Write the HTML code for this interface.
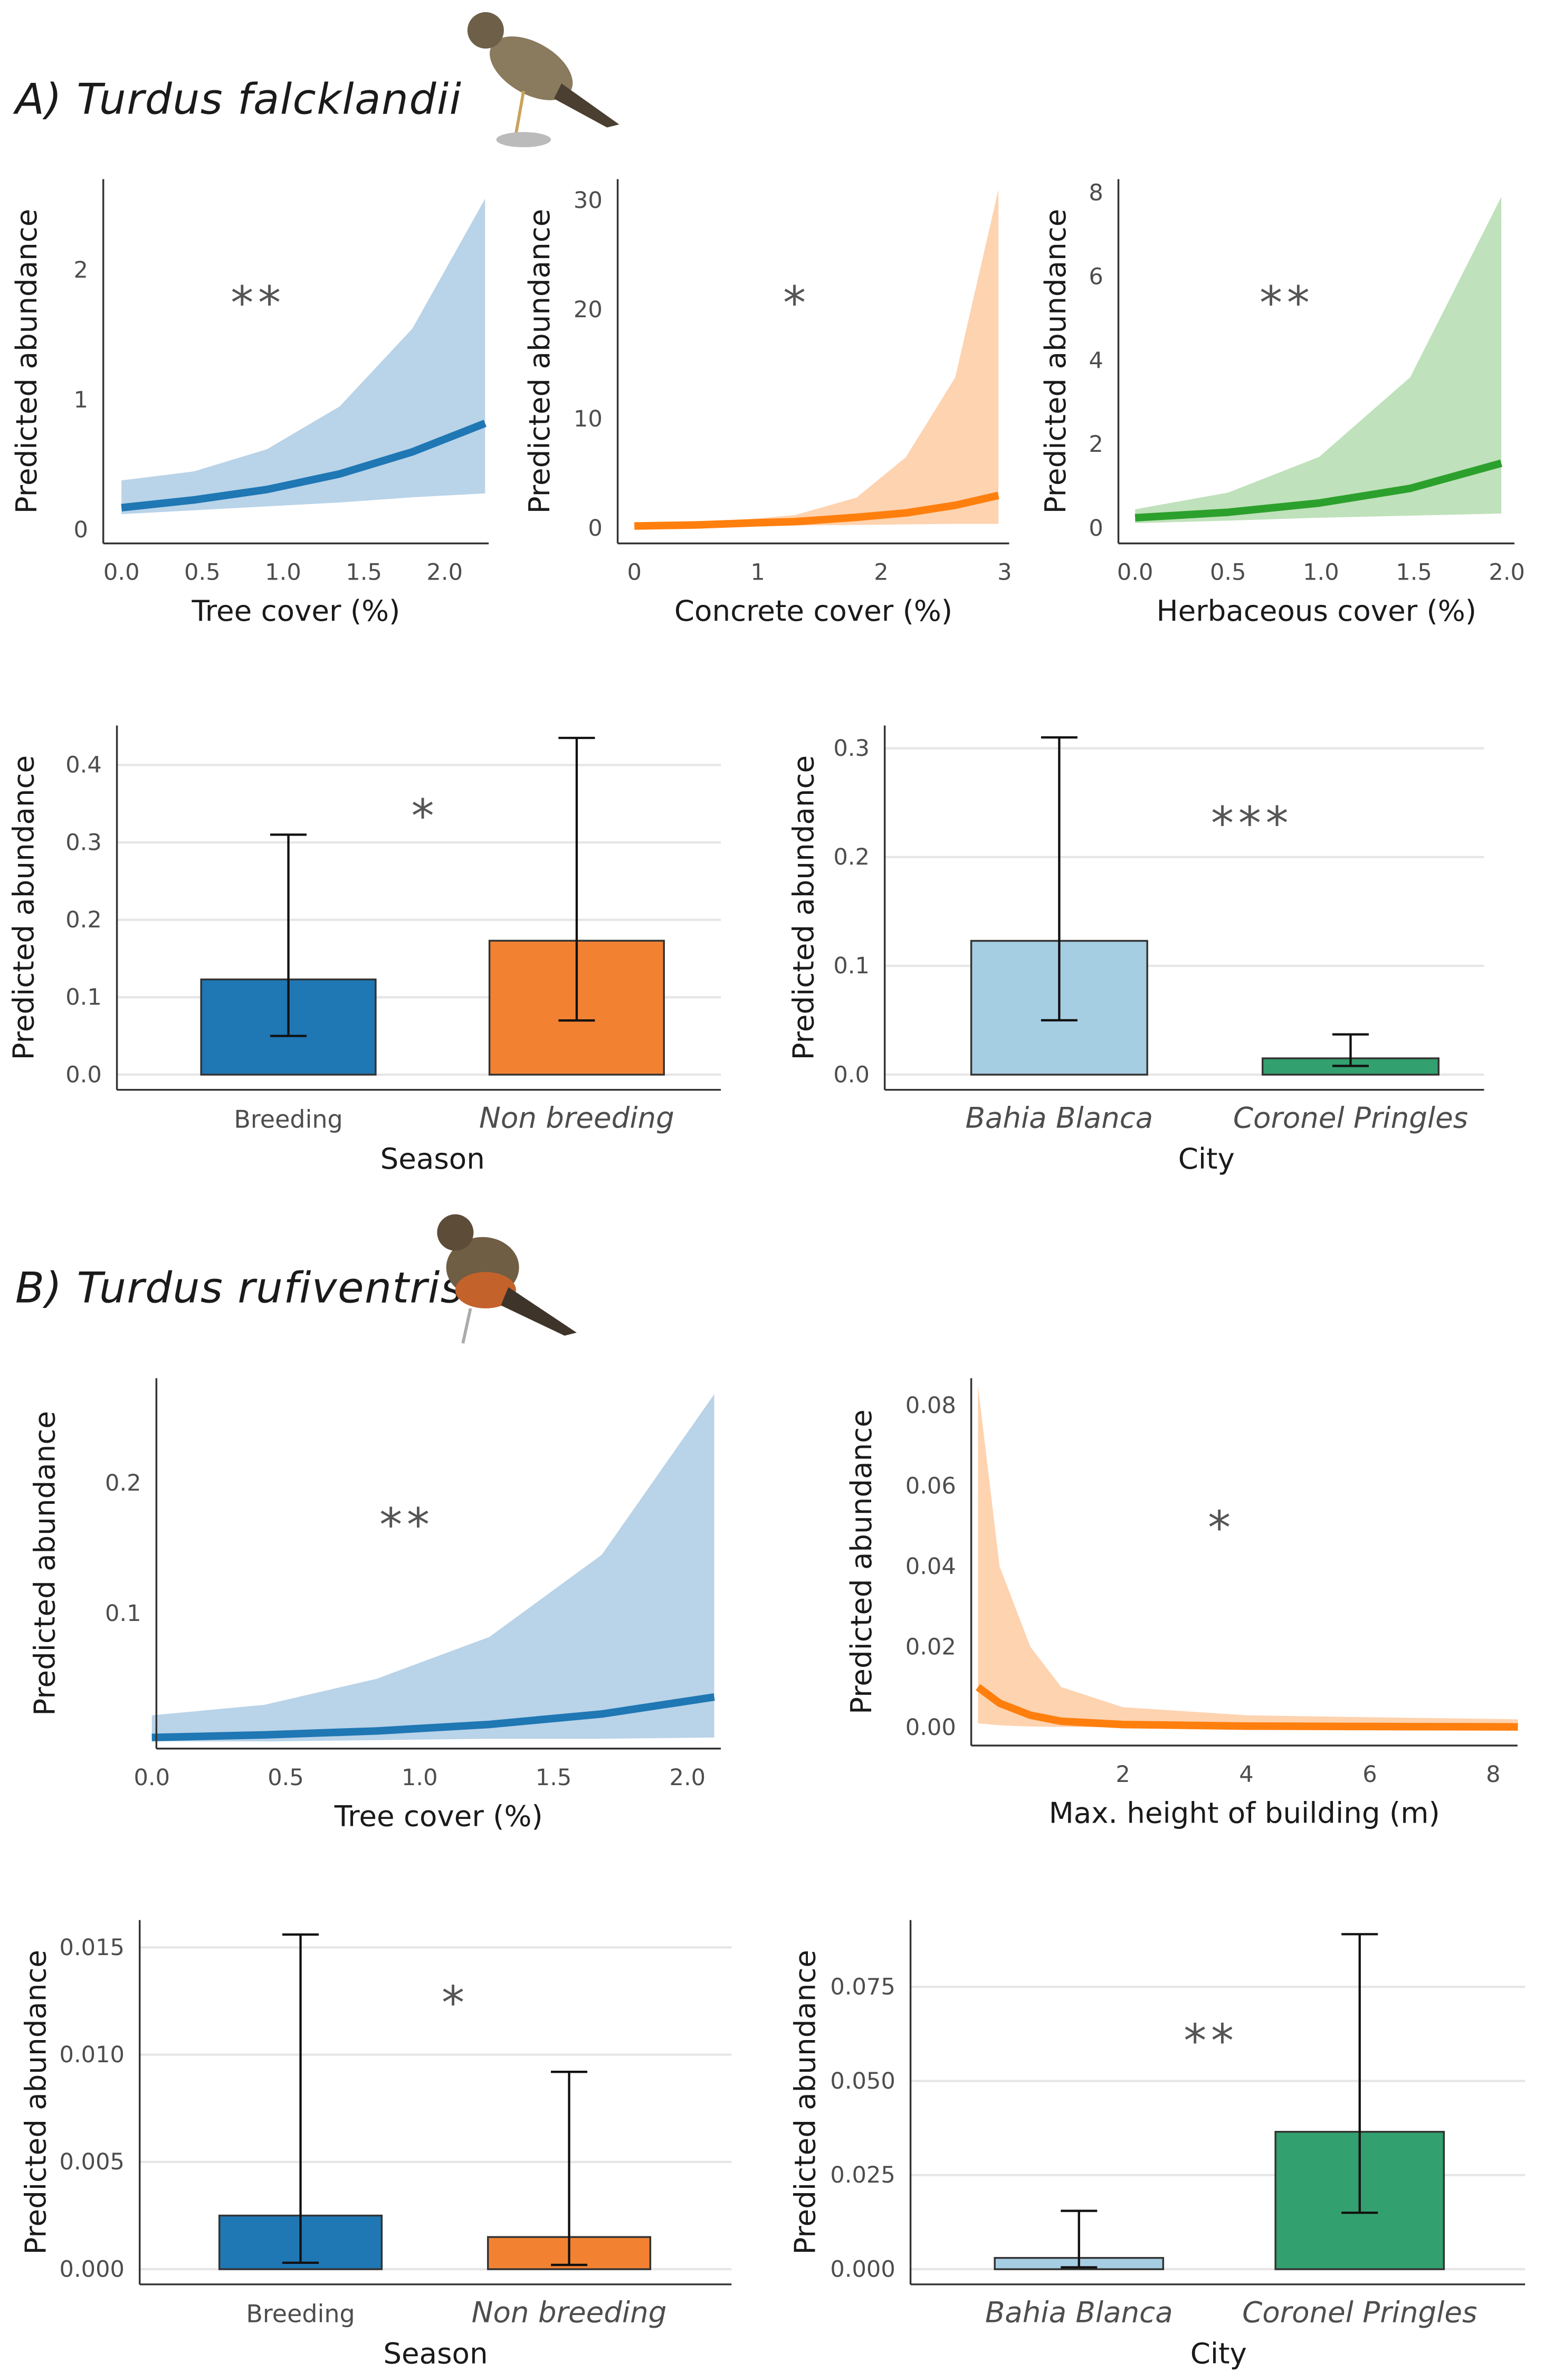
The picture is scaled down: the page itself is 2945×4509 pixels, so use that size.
<!DOCTYPE html>
<html><head><meta charset="utf-8">
<style>
html,body{margin:0;padding:0;background:#fff;}
svg{display:block;font-family:"DejaVu Sans","Liberation Sans",sans-serif;}
.tick{font-size:15px;fill:#4d4d4d;}
.atitle{font-size:19px;fill:#1a1a1a;}
.star{font-size:30px;fill:#555;letter-spacing:3px;}
</style></head>
<body>
<svg id="fig" width="2945" height="4509" viewBox="0 0 1024 1568" xmlns="http://www.w3.org/2000/svg">
<text x="10" y="75" font-size="28" font-style="italic" letter-spacing="0.5" fill="#1a1a1a">A)  Turdus falcklandii</text>
<g>
<ellipse cx="350" cy="45" rx="30" ry="17" fill="#8a7a5e" transform="rotate(30 350 45)"/>
<circle cx="320" cy="20" r="12" fill="#6e5f48"/>
<polygon points="370,55 408,82 400,84 365,65" fill="#4a3f30"/>
<line x1="345" y1="60" x2="340" y2="88" stroke="#c9a25a" stroke-width="2"/>
<ellipse cx="345" cy="92" rx="18" ry="5" fill="#bbb"/>
</g>
<text x="10" y="858" font-size="28" font-style="italic" letter-spacing="0.5" fill="#1a1a1a">B)  Turdus rufiventris</text>
<g>
<ellipse cx="318" cy="835" rx="24" ry="20" fill="#6f5d44"/>
<circle cx="300" cy="812" r="12" fill="#5d4c38"/>
<ellipse cx="320" cy="850" rx="20" ry="12" fill="#c4622c"/>
<polygon points="335,848 380,878 372,880 330,860" fill="#3f342a"/>
<line x1="310" y1="862" x2="305" y2="885" stroke="#aaa" stroke-width="2"/>
</g>
<g id="plots"></g>
</svg>
<script>
const a1X=[0,0.45,0.9,1.35,1.8,2.25];
const a1Fit=[0.17,0.23,0.31,0.43,0.6,0.82];
const a1Up=[0.38,0.45,0.62,0.95,1.55,2.55];
const a1Lo=[0.12,0.15,0.18,0.21,0.25,0.28];
const a2X=[0,0.5,1.0,1.3,1.8,2.2,2.6,2.95];
const a2Fit=[0.2,0.3,0.5,0.6,1.0,1.4,2.1,3.0];
const a2Up=[0.3,0.5,0.9,1.2,2.8,6.5,13.8,31];
const a2Lo=[0.1,0.15,0.2,0.25,0.3,0.35,0.4,0.4];
const a3X=[0,0.5,0.99,1.48,1.97];
const a3Fit=[0.25,0.38,0.6,0.95,1.55];
const a3Up=[0.45,0.85,1.7,3.6,7.9];
const a3Lo=[0.12,0.18,0.25,0.3,0.35];
const seasonCats=["Breeding","Non breeding"];
const a4Val=[0.123,0.173];const a4Lo=[0.05,0.07];const a4Hi=[0.31,0.435];
const cityCats=["Bahia Blanca","Coronel Pringles"];
const a5Val=[0.123,0.015];const a5Lo=[0.05,0.008];const a5Hi=[0.31,0.037];
const b1X=[0,0.42,0.84,1.26,1.68,2.1];
const b1Fit=[0.005,0.007,0.01,0.015,0.023,0.036];
const b1Up=[0.022,0.03,0.05,0.082,0.145,0.268];
const b1Lo=[0.002,0.002,0.003,0.004,0.004,0.005];
const b2X=[-0.35,0,0.5,1,2,4,6,8.4];
const b2Fit=[0.01,0.006,0.003,0.0015,0.0007,0.0003,0.0002,0.0001];
const b2Up=[0.085,0.04,0.02,0.01,0.005,0.003,0.0025,0.002];
const b2Lo=[0.001,0.0005,0.0002,0.0001,0,0,0,0];
const b3Val=[0.0025,0.0015];const b3Lo=[0.0003,0.0002];const b3Hi=[0.0156,0.0092];
const b4Val=[0.003,0.0365];const b4Lo=[0.0005,0.015];const b4Hi=[0.0155,0.089];
const a1Ticks=["0.0","0.5","1.0","1.5","2.0"],a1YT=["0","1","2"];
const a2Ticks=["0","1","2","3"],a2YT=["0","10","20","30"];
const a3Ticks=["0.0","0.5","1.0","1.5","2.0"],a3YT=["0","2","4","6","8"];
const a4YT=["0.0","0.1","0.2","0.3","0.4"];
const a5YT=["0.0","0.1","0.2","0.3"];
const b1Ticks=["0.0","0.5","1.0","1.5","2.0"],b1YT=["0.1","0.2"];
const b2Ticks=["2","4","6","8"],b2YT=["0.00","0.02","0.04","0.06","0.08"];
const b3YT=["0.000","0.005","0.010","0.015"];
const b4YT=["0.000","0.025","0.050","0.075"];

const NS="http://www.w3.org/2000/svg";
const root=document.getElementById('plots');
function el(t,a,p){const e=document.createElementNS(NS,t);for(const k in a)e.setAttribute(k,a[k]);(p||root).appendChild(e);return e;}
function txt(x,y,s,cls,anchor,p,extra){const e=el('text',Object.assign({x:x,y:y,class:cls,'text-anchor':anchor||'middle'},extra||{}),p);e.textContent=s;return e;}
function lin(v0,p0,v1,p1){return v=>p0+(v-v0)*(p1-p0)/(v1-v0);}

function linePanel(o){
  const g=el('g',{});
  
  
  const sx=lin(o.xv[0],o.xp[0],o.xv[1],o.xp[1]);
  const sy=lin(o.yv[0],o.yp[0],o.yv[1],o.yp[1]);
  let d='';
  o.x.forEach((v,i)=>{d+=(i?'L':'M')+sx(v)+','+sy(o.up[i]);});
  for(let i=o.x.length-1;i>=0;i--)d+='L'+sx(o.x[i])+','+sy(o.lo[i]);
  const band=el('path',{d:d+'Z',fill:o.band},g);
  
  
  let l='';o.x.forEach((v,i)=>{l+=(i?'L':'M')+sx(v)+','+sy(o.fit[i]);});
  const ln=el('path',{d:l,fill:'none',stroke:o.col,'stroke-width':5,'stroke-linejoin':'round'},g);
  
  
  el('line',{x1:o.ax,y1:o.top,x2:o.ax,y2:o.bot,stroke:'#333','stroke-width':1.2},g);
  el('line',{x1:o.ax,y1:o.bot,x2:o.right,y2:o.bot,stroke:'#333','stroke-width':1.2},g);
  o.xt.forEach(t=>txt(sx(+t),o.bot+24,t,'tick','middle',g));
  o.yt.forEach(t=>txt(o.ax-10,sy(+t)+5,t,'tick','end',g));
  txt((o.ax+o.right)/2,o.bot+51,o.xl,'atitle','middle',g);
  txt(0,0,'Predicted abundance','atitle','middle',g,{transform:`translate(${o.ylx},${(o.top+o.bot)/2}) rotate(-90)`});
  txt(o.sx,o.sy,o.star,'star','middle',g);
}
function barPanel(o){
  const g=el('g',{});
  
  
  const sy=lin(o.yv[0],o.yp[0],o.yv[1],o.yp[1]);
  o.yt.forEach(t=>{el('line',{x1:o.ax,y1:sy(+t),x2:o.right,y2:sy(+t),stroke:'#e6e6e6','stroke-width':1.5},g);txt(o.ax-10,sy(+t)+5,t,'tick','end',g);});
  o.cats.forEach((c,i)=>{
    const cx=o.cx[i],w=o.w;
    const r=el('rect',{x:cx-w/2,y:sy(o.val[i]),width:w,height:sy(0)-sy(o.val[i]),fill:o.cols[i],stroke:'#333','stroke-width':1.2},g);
    
    
    const e=el('path',{d:`M${cx},${sy(o.lo[i])}V${sy(o.hi[i])}M${cx-12},${sy(o.hi[i])}H${cx+12}M${cx-12},${sy(o.lo[i])}H${cx+12}`,stroke:'#111','stroke-width':1.5,fill:'none'},g);
    
    
    txt(cx,o.bot+25,c,'tick','middle',g,{style:`font-size:${o.catSize[i]}px;font-style:${o.ital[i]?'italic':'normal'}`});
  });
  el('line',{x1:o.ax,y1:o.top,x2:o.ax,y2:o.bot,stroke:'#333','stroke-width':1.2},g);
  el('line',{x1:o.ax,y1:o.bot,x2:o.right,y2:o.bot,stroke:'#333','stroke-width':1.2},g);
  txt(o.xlx,o.bot+52,o.xl,'atitle','middle',g);
  txt(0,0,'Predicted abundance','atitle','middle',g,{transform:`translate(${o.ylx},${(o.top+o.bot)/2}) rotate(-90)`});
  txt(o.sx,o.sy,o.star,'star','middle',g);
}
const BLUE='#1f77b4',ORANGE='#ff7f0e',GREEN='#2ca02c';
linePanel({name:'panel-a-tree-cover',x:a1X,fit:a1Fit,up:a1Up,lo:a1Lo,xv:[0,2],xp:[80,293],yv:[0,2],yp:[349,178],ax:68,top:118,bot:358,right:322,xt:a1Ticks,yt:a1YT,xl:'Tree cover (%)',ylx:24,sx:170,sy:210,star:'**',band:'#b9d3e8',col:BLUE});
linePanel({name:'panel-a-concrete-cover',x:a2X,fit:a2Fit,up:a2Up,lo:a2Lo,xv:[0,3],xp:[418,662],yv:[0,30],yp:[348,132],ax:407,top:118,bot:358,right:665,xt:a2Ticks,yt:a2YT,xl:'Concrete cover (%)',ylx:362,sx:525,sy:210,star:'*',band:'#fed3b0',col:ORANGE});
linePanel({name:'panel-a-herbaceous-cover',x:a3X,fit:a3Fit,up:a3Up,lo:a3Lo,xv:[0,2],xp:[748,993],yv:[0,8],yp:[348,127],ax:737,top:118,bot:358,right:998,xt:a3Ticks,yt:a3YT,xl:'Herbaceous cover (%)',ylx:702,sx:848,sy:210,star:'**',band:'#bfe1bb',col:GREEN});
barPanel({name:'panel-a-season',cats:seasonCats,val:a4Val,lo:a4Lo,hi:a4Hi,cx:[190,380],w:115,cols:[BLUE,'#f28232'],yv:[0,0.4],yp:[708,504],ax:77,right:475,top:478,bot:718,yt:a4YT,xl:'Season',xlx:285,ylx:22,sx:280,sy:548,star:'*',catSize:[16,19],ital:[false,true]});
barPanel({name:'panel-a-city',cats:cityCats,val:a5Val,lo:a5Lo,hi:a5Hi,cx:[698,890],w:116,cols:['#a6cee3','#33a06f'],yv:[0,0.3],yp:[708,493],ax:583,right:978,top:478,bot:718,yt:a5YT,xl:'City',xlx:795,ylx:536,sx:825,sy:553,star:'***',catSize:[19,19],ital:[true,true]});
linePanel({name:'panel-b-tree-cover',x:b1X,fit:b1Fit,up:b1Up,lo:b1Lo,xv:[0,2],xp:[100,453],yv:[0.1,0.2],yp:[1063,977],ax:103,top:908,bot:1152,right:475,xt:b1Ticks,yt:b1YT,xl:'Tree cover (%)',ylx:36,sx:268,sy:1015,star:'**',band:'#b9d3e8',col:BLUE});
linePanel({name:'panel-b-building-height',x:b2X,fit:b2Fit,up:b2Up,lo:b2Lo,xv:[2,8],xp:[740,984],yv:[0,0.08],yp:[1138,926],ax:640,top:908,bot:1150,right:1000,xt:b2Ticks,yt:b2YT,xl:'Max. height of building (m)',ylx:574,sx:805,sy:1017,star:'*',band:'#fed3b0',col:ORANGE});
barPanel({name:'panel-b-season',cats:seasonCats,val:b3Val,lo:b3Lo,hi:b3Hi,cx:[198,375],w:107,cols:[BLUE,'#f28232'],yv:[0,0.015],yp:[1495,1283],ax:92,right:482,top:1265,bot:1505,yt:b3YT,xl:'Season',xlx:287,ylx:30,sx:300,sy:1330,star:'*',catSize:[16,19],ital:[false,true]});
barPanel({name:'panel-b-city',cats:cityCats,val:b4Val,lo:b4Lo,hi:b4Hi,cx:[711,896],w:111,cols:['#a6cee3','#33a06f'],yv:[0,0.075],yp:[1495,1309],ax:600,right:1005,top:1265,bot:1505,yt:b4YT,xl:'City',xlx:803,ylx:537,sx:798,sy:1355,star:'**',catSize:[19,19],ital:[true,true]});
</script>
</body></html>
